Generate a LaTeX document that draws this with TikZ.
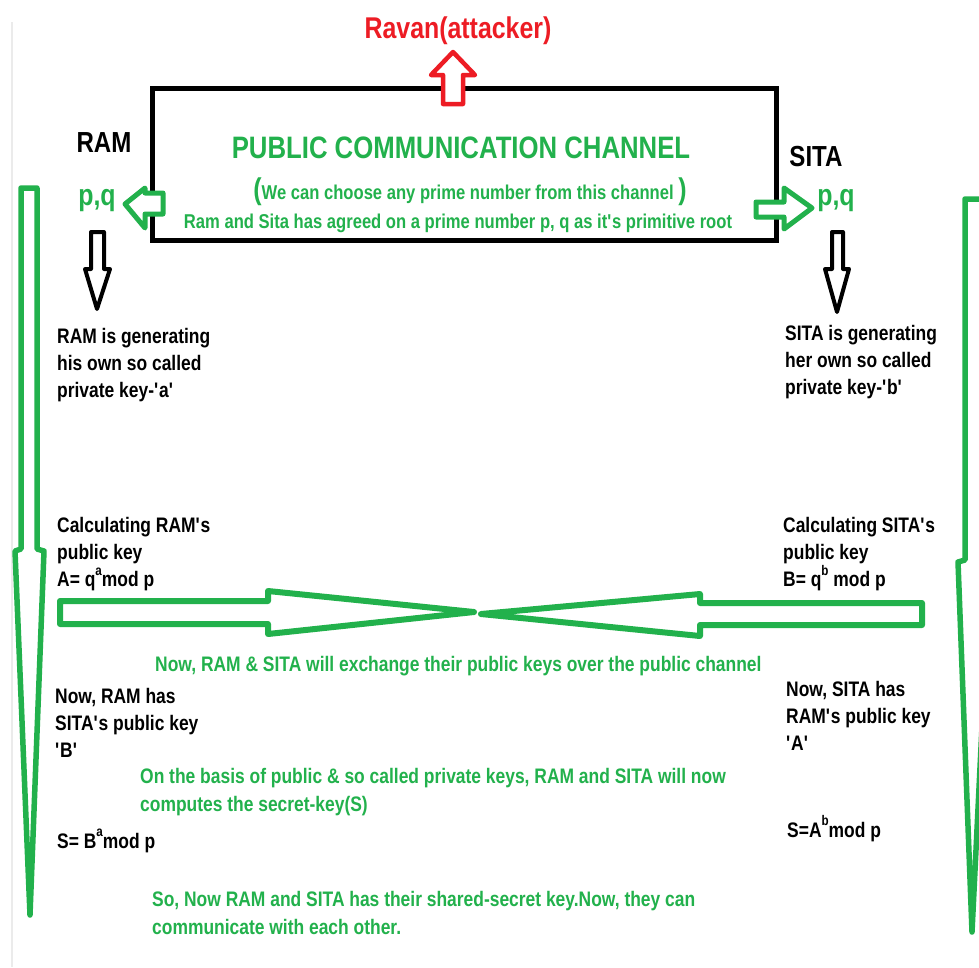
\documentclass[tikz,border=0pt]{standalone}
\usepackage{fontspec}
\setmainfont{Liberation Sans}[FakeStretch=0.83]
\definecolor{pgreen}{RGB}{34,177,76}
\definecolor{pred}{RGB}{237,28,36}
\tikzset{
  txt/.style={font=\bfseries\fontsize{21}{27}\selectfont, align=left, inner sep=0pt, anchor=north west},
  gtxt/.style={txt, text=pgreen},
  ctxt/.style={inner sep=0pt, anchor=center},
  hollow/.style={line width=5pt, line join=round, fill=white}
}
\newcommand{\supr}[2]{\raisebox{#1}{\fontsize{14}{14}\selectfont #2}}
\newcommand{\sq}{\textquotesingle}
\begin{document}
\begin{tikzpicture}[x=1pt,y=-1pt]
\useasboundingbox (0,0) rectangle (979,967);
\fill[white] (0,0) rectangle (979,967);
\draw[black!8, line width=1.5pt] (12,22) -- (12,967);

% channel box
\node[draw=black, line width=5pt, minimum width=624pt, minimum height=152pt, inner sep=0pt] (chan) at (464,164) {};

% attacker
\node[ctxt, text=pred, font=\bfseries\fontsize{30}{30}\selectfont] (ravan) at (458,31) {Ravan(attacker)};
\draw[pred, hollow, line width=4.5pt] (453,52) -- (475,75) -- (463,75) -- (463,104) -- (443,104) -- (443,75) -- (431,75) -- cycle;

% texts in channel
\node[ctxt, text=pgreen, font=\bfseries\fontsize{31}{31}\selectfont] (head) at (461,148) {PUBLIC COMMUNICATION CHANNEL};
\node[ctxt, text=pgreen, font=\bfseries\fontsize{20}{20}\selectfont] (choose) at (470,192) {{\fontsize{30}{30}\selectfont(}We can choose any prime number from this channel {\fontsize{30}{30}\selectfont)}};
\node[ctxt, text=pgreen, font=\bfseries\fontsize{20}{20}\selectfont] (agreed) at (458,223) {Ram and Sita has agreed on a prime number p, q as it\sq s primitive root};

% parties
\node[ctxt, font=\bfseries\fontsize{29}{29}\selectfont] (ram) at (104,143) {RAM};
\node[ctxt, font=\bfseries\fontsize{29}{29}\selectfont] (sita) at (816,157) {SITA};
\node[ctxt, text=pgreen, font=\bfseries\fontsize{30}{30}\selectfont] (pql) at (97,201) {p,q};
\node[ctxt, text=pgreen, font=\bfseries\fontsize{30}{30}\selectfont] (pqr) at (836,201) {p,q};

% small green arrows out of the channel
\draw[pgreen, hollow] (125,204) -- (145,188) -- (145,193) -- (163,193) -- (163,214) -- (145,214) -- (145,228) -- cycle;
\draw[pgreen, hollow] (812,208) -- (784,188) -- (784,202) -- (756,202) -- (756,217) -- (784,217) -- (784,229) -- cycle;

% black down arrows
\draw[black, hollow, line width=4pt] (91,232) -- (104,232) -- (104,269) -- (110,269) -- (97,309) -- (85,269) -- (91,269) -- cycle;
\draw[black, hollow, line width=4pt] (832,232) -- (843,232) -- (843,269) -- (849,269) -- (837,312) -- (825,269) -- (832,269) -- cycle;

% long vertical green arrows
\draw[pgreen, line width=5.5pt, line join=round] (21,188) -- (37,188) -- (37,549) -- (44,551) -- (30,915) -- (15,551) -- (21,549) -- cycle;
\draw[pgreen, line width=5.5pt, line join=round] (965,199) -- (985,199) -- (985,560) -- (990,562) -- (972,932) -- (958,562) -- (965,560) -- cycle;

% private keys
\node[txt] (privA) at (57,328) {RAM is generating\\his own so called\\private key-\sq a\sq};
\node[txt] (privB) at (785,325) {SITA is generating\\her own so called\\private key-\sq b\sq};

% public keys
\node[txt] (pubA) at (57,517) {Calculating RAM\sq s\\public key\\A= q\supr{11pt}{a}mod p};
\node[txt] (pubB) at (783,517) {Calculating SITA\sq s\\public key\\B= q\supr{11pt}{b} mod p};

% exchange arrows
\draw[pgreen, line width=6pt, line join=round] (60,601) -- (268,601) -- (268,591) -- (474,612) -- (268,634) -- (268,624) -- (60,624) -- cycle;
\draw[pgreen, line width=6pt, line join=round] (922,603) -- (700,603) -- (700,594) -- (481,614) -- (700,636) -- (700,625) -- (922,625) -- cycle;

\node[gtxt] (exch) at (155,656) {Now, RAM \& SITA will exchange their public keys over the public channel};

\node[txt] (hasB) at (55,688) {Now, RAM has\\SITA\sq s public key\\\sq B\sq};
\node[txt] (hasA) at (786,681) {Now, SITA has\\RAM\sq s public key\\\sq A\sq};

\node[gtxt, font=\bfseries\fontsize{21}{28}\selectfont] (basis) at (140,768) {On the basis of public \& so called private keys, RAM and SITA will now\\computes the secret-key(S)};

\node[txt] (sA) at (57,829) {S= B\supr{12pt}{a}mod p};
\node[txt] (sB) at (787,815) {S=A\supr{12pt}{b}mod p};

\node[gtxt, font=\bfseries\fontsize{21}{28}\selectfont] (shared) at (152,891) {So, Now RAM and SITA has their shared-secret key.Now, they can\\communicate with each other.};
\end{tikzpicture}
\end{document}
